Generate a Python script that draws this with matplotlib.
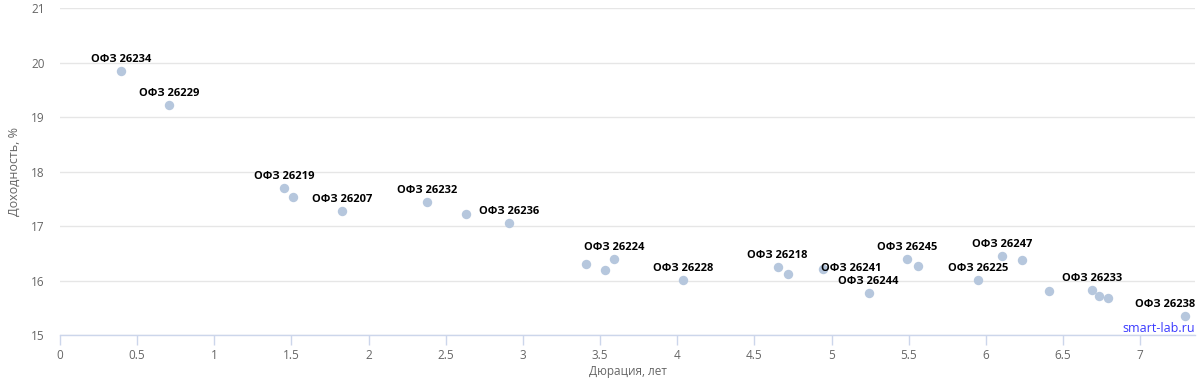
import matplotlib
matplotlib.use("Agg")
import matplotlib.pyplot as plt

durations = [0.395, 0.706, 1.452, 1.51, 1.828, 2.378, 2.63, 2.91, 3.41, 3.53, 3.59, 4.04,
             4.65, 4.72, 4.945, 5.24, 5.49, 5.56, 5.95, 6.105, 6.235, 6.41, 6.69, 6.73, 6.79, 7.29]
yields = [19.84, 19.22, 17.70, 17.53, 17.28, 17.44, 17.22, 17.06, 16.30, 16.19, 16.39, 16.01,
          16.25, 16.12, 16.21, 15.77, 16.39, 16.27, 16.01, 16.45, 16.38, 15.81, 15.83, 15.72, 15.68, 15.35]
labels = ["ОФЗ 26234", "ОФЗ 26229", "ОФЗ 26219", "", "ОФЗ 26207", "ОФЗ 26232", "", "ОФЗ 26236",
          "", "", "ОФЗ 26224", "ОФЗ 26228", "ОФЗ 26218", "", "ОФЗ 26241", "ОФЗ 26244",
          "ОФЗ 26245", "", "ОФЗ 26225", "ОФЗ 26247", "", "", "ОФЗ 26233", "", "", "ОФЗ 26238"]
xticks = [0, 0.5, 1, 1.5, 2, 2.5, 3, 3.5, 4, 4.5, 5, 5.5, 6, 6.5, 7]
xtick_labels = ["0", "0.5", "1", "1.5", "2", "2.5", "3", "3.5", "4", "4.5", "5", "5.5", "6", "6.5", "7"]
yticks = [15, 16, 17, 18, 19, 20, 21]

# label placement overrides (pixel offsets, alignment) to mimic collision avoidance
label_place = {
    "ОФЗ 26241": ((-2, 1), 'left', 'center'),
    "ОФЗ 26238": ((10, 6), 'right', 'bottom'),
}

plt.rcParams['font.family'] = ['Open Sans', 'DejaVu Sans']

fig = plt.figure(figsize=(12, 3.82), dpi=100)
ax = fig.add_axes([0.05, 0.123, 0.946, 0.856])

ax.scatter(durations, yields, s=46, color='#b6c7dd', zorder=3, linewidths=0)
for x, y, t in zip(durations, yields, labels):
    if t:
        off, ha, va = label_place.get(t, ((0, 6), 'center', 'bottom'))
        ax.annotate(t, (x, y), xytext=off, textcoords='offset pixels',
                    ha=ha, va=va, fontsize=8, fontweight='bold',
                    color='#000000', zorder=4)

ax.set_xlim(0, 7.356)
ax.set_ylim(15, 21)
ax.set_xticks(xticks)
ax.set_xticklabels(xtick_labels)
ax.set_yticks(yticks)
ax.grid(axis='y', color='#e6e6e6', linewidth=1)
ax.set_axisbelow(True)
for s in ['top', 'right', 'left']:
    ax.spines[s].set_visible(False)
ax.spines['bottom'].set_color('#ccd6eb')
ax.spines['bottom'].set_linewidth(1)
ax.tick_params(axis='x', colors='#ccd6eb', labelcolor='#666666', labelsize=8.5, length=7, width=1, pad=3)
ax.tick_params(axis='y', length=0, labelcolor='#666666', labelsize=8.5, pad=11)

ax.set_xlabel("Дюрация, лет", color='#666666', fontsize=8.5, labelpad=2)
ax.set_ylabel("Доходность, %", color='#666666', fontsize=9, labelpad=7)

fig.text(0.996, 0.141, "smart-lab.ru", color='#3a3aff', fontsize=9, ha='right', va='center')

fig.savefig("out.png", dpi=100, facecolor='white')
